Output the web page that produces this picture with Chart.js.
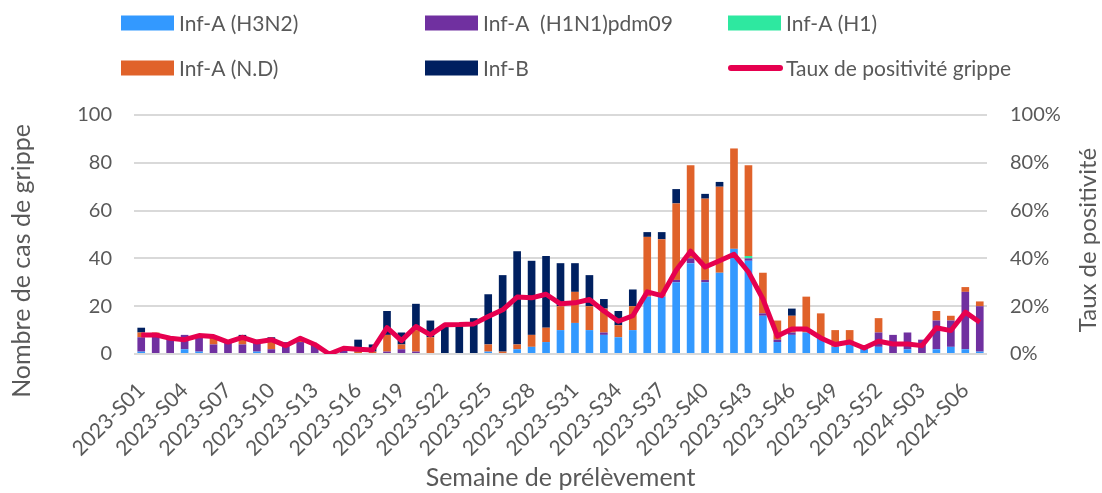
<!DOCTYPE html>
<html>
<head>
<meta charset="utf-8">
<script src="https://cdn.jsdelivr.net/npm/chart.js@4.4.0/dist/chart.umd.min.js"></script>
<style>
  html, body { margin: 0; padding: 0; background: #fff; }
</style>
</head>
<body>
<canvas id="grippeChart" width="1102" height="493"></canvas>
<script>
// semaines de prélèvement
const semaines = [
  '2023-S01','2023-S02','2023-S03','2023-S04','2023-S05','2023-S06','2023-S07','2023-S08','2023-S09','2023-S10',
  '2023-S11','2023-S12','2023-S13','2023-S14','2023-S15','2023-S16','2023-S17','2023-S18','2023-S19','2023-S20',
  '2023-S21','2023-S22','2023-S23','2023-S24','2023-S25','2023-S26','2023-S27','2023-S28','2023-S29','2023-S30',
  '2023-S31','2023-S32','2023-S33','2023-S34','2023-S35','2023-S36','2023-S37','2023-S38','2023-S39','2023-S40',
  '2023-S41','2023-S42','2023-S43','2023-S44','2023-S45','2023-S46','2023-S47','2023-S48','2023-S49','2023-S50',
  '2023-S51','2023-S52','2024-S01','2024-S02','2024-S03','2024-S04','2024-S05','2024-S06','2024-S07'
];

// nombre de cas par type
const infH3N2 = [1,0,0,2,1,0,0,0,1,0, 0,0,0,0,0,0,0,0,0,0, 0,0,0,0,1,0,2,3,5,10, 13,10,8,7,10,24,24,30,38,30, 34,44,39,16,5,8,9,7,3,4, 3,3,0,2,0,2,3,2,1];
const infH1N1 = [6,8,7,6,6,4,5,4,5,2, 5,5,4,0,2,0,0,1,2,1, 0,0,0,0,0,0,0,0,0,0, 0,0,1,0,0,0,0,1,2,1, 0,0,1,1,1,1,0,0,0,0, 0,6,8,7,6,12,11,24,19];
const infH1   = [0,0,0,0,0,0,0,0,0,0, 0,0,0,0,0,0,0,0,0,0, 0,0,0,0,0,0,0,0,0,0, 0,0,0,0,0,0,0,0,0,0, 0,0,1,0,0,0,0,0,0,0, 0,0,0,0,0,0,0,0,0];
const infND   = [2,1,0,0,0,3,0,3,0,3, 0,1,0,0,0,1,1,7,2,9, 7,0,0,0,3,1,2,5,6,10, 13,10,10,5,10,25,24,32,39,34, 36,42,38,17,8,7,15,10,7,6, 0,6,0,0,0,4,2,2,2];
const infB    = [2,0,0,0,0,0,0,1,0,2, 0,0,0,0,0,5,3,10,5,11, 7,12,12,15,21,32,39,31,30,18, 12,13,4,6,7,2,3,6,0,2, 2,0,0,0,0,3,0,0,0,0, 0,0,0,0,0,0,0,0,0];

// taux de positivité (%)
const tauxPositivite = [8,8,6.6,6,7.7,7.3,5,7,5,6, 3.5,6.6,4,0,2.4,2,1.7,11,5.6,11.5,
  8,12.2,12.3,12.6,15.7,18.5,23.8,23.5,25,21, 21.4,22.8,18,13.7,16,26,24.4,35,43,36.4,
  39,41.7,34.3,23,7.5,10.5,10.5,6.7,4,5, 2.5,5.3,4.2,4.2,3.5,11,9.8,17.5,13.3];

const couleurTexte = '#595959';
const police = 'Lato, "Open Sans", sans-serif';

// légende en 3 colonnes + titres des axes verticaux
const legendeColonnes = {
  id: 'legendeColonnes',
  afterDraw(chart) {
    const ctx = chart.ctx;
    const colX = [121, 425, 728];
    const rowY = [23, 68];
    ctx.save();
    ctx.font = '21px ' + police;
    ctx.textBaseline = 'middle';
    ctx.textAlign = 'left';
    chart.data.datasets.forEach((ds, i) => {
      const x = colX[i % 3];
      const y = rowY[Math.floor(i / 3)];
      if (ds.type === 'line') {
        ctx.strokeStyle = ds.borderColor;
        ctx.lineWidth = 6;
        ctx.lineCap = 'round';
        ctx.beginPath();
        ctx.moveTo(x + 3, y);
        ctx.lineTo(x + 52, y);
        ctx.stroke();
      } else {
        ctx.fillStyle = ds.backgroundColor;
        ctx.fillRect(x, y - 7.5, 53, 15);
      }
      ctx.fillStyle = couleurTexte;
      ctx.fillText(ds.label, x + 58, y + 1);
    });

    ctx.font = '25px ' + police;
    ctx.textAlign = 'center';
    ctx.translate(22, 261);
    ctx.rotate(-Math.PI / 2);
    ctx.fillText('Nombre de cas de grippe', 0, 0);
    ctx.restore();

    ctx.save();
    ctx.font = '24px ' + police;
    ctx.fillStyle = couleurTexte;
    ctx.textAlign = 'center';
    ctx.textBaseline = 'middle';
    ctx.translate(1088, 240);
    ctx.rotate(-Math.PI / 2);
    ctx.fillText('Taux de positivité', 0, 0);
    ctx.restore();
  }
};

const barre = (label, data, color) => ({
  type: 'bar',
  label: label,
  data: data,
  backgroundColor: color,
  stack: 'cas',
  yAxisID: 'y',
  order: 1,
  barPercentage: 0.53,
  categoryPercentage: 1
});

new Chart(document.getElementById('grippeChart').getContext('2d'), {
  data: {
    labels: semaines,
    datasets: [
      barre('Inf-A (H3N2)', infH3N2, '#3399ff'),
      barre('Inf-A  (H1N1)pdm09', infH1N1, '#7030a0'),
      barre('Inf-A (H1)', infH1, '#2ee8a0'),
      barre('Inf-A (N.D)', infND, '#e0622a'),
      barre('Inf-B', infB, '#002060'),
      {
        type: 'line',
        label: 'Taux de positivité grippe',
        data: tauxPositivite,
        borderColor: '#e6004f',
        backgroundColor: '#e6004f',
        borderWidth: 5,
        borderJoinStyle: 'round',
        pointRadius: 0,
        tension: 0,
        yAxisID: 'y1',
        order: 0
      }
    ]
  },
  options: {
    responsive: false,
    animation: false,
    layout: { padding: { top: 115, left: 0, right: 0, bottom: 0 } },
    plugins: {
      legend: { display: false },
      tooltip: { enabled: false }
    },
    scales: {
      x: {
        stacked: true,
        grid: { display: false },
        border: { display: false },
        ticks: {
          color: couleurTexte,
          font: { family: police, size: 21 },
          autoSkip: false,
          maxRotation: 45,
          minRotation: 45,
          padding: 16,
          callback: function(v, i) { return i % 3 === 0 ? semaines[i] : ''; }
        },
        title: {
          display: true,
          text: 'Semaine de prélèvement',
          color: couleurTexte,
          font: { family: police, size: 25 },
          padding: { top: 0, bottom: 0 }
        },
        afterFit: s => { s.height = 139; }
      },
      y: {
        stacked: true,
        position: 'left',
        min: 0,
        max: 100,
        grid: { color: '#d9d9d9', lineWidth: 2, drawTicks: false },
        border: { display: false },
        ticks: {
          stepSize: 20,
          color: couleurTexte,
          font: { family: police, size: 20 },
          padding: 22
        },
        afterFit: s => { s.width = 134; }
      },
      y1: {
        position: 'right',
        min: 0,
        max: 100,
        grid: { display: false, drawTicks: false },
        border: { display: false },
        ticks: {
          stepSize: 20,
          color: couleurTexte,
          font: { family: police, size: 20 },
          padding: 23,
          callback: v => v + '%'
        },
        afterFit: s => { s.width = 115; }
      }
    }
  },
  plugins: [legendeColonnes]
});
</script>
</body>
</html>
